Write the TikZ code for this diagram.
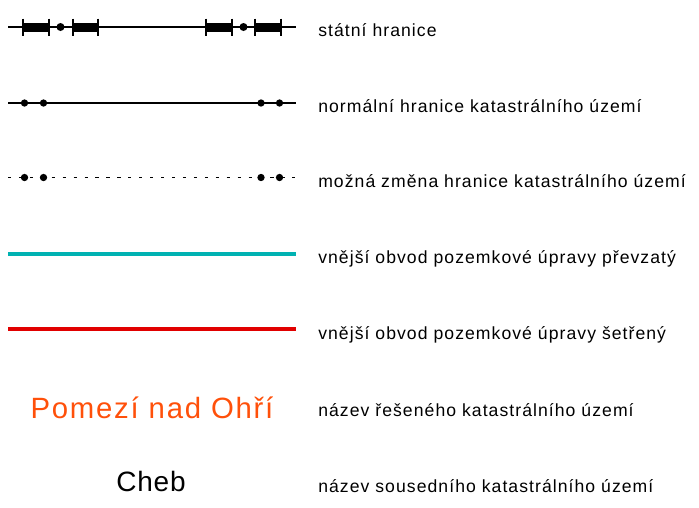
\documentclass[tikz,border=0pt]{standalone}
\usepackage{fontspec}
\setmainfont{Liberation Sans}[LetterSpace=6]
\definecolor{cyanline}{RGB}{0,178,178}
\definecolor{redline}{RGB}{225,0,0}
\definecolor{orangetext}{RGB}{255,80,10}
\begin{document}
\begin{tikzpicture}[x=0.75pt,y=-0.75pt,
  thinline/.style={line width=1pt,black},
  seg/.style={fill=black,draw=none},
  tick/.style={line width=0.8pt,black},
  dot/.style={circle,fill=black,inner sep=0pt,minimum size=6pt},
  smalldot/.style={circle,fill=black,inner sep=0pt,minimum size=5.5pt},
  label/.style={anchor=base west,inner sep=0pt,font=\fontsize{13.2}{15}\selectfont},
  bigname/.style={anchor=base,inner sep=0pt,font=\fontsize{22}{26}\selectfont}]
\useasboundingbox (0,0) rectangle (699,507);
% row 1: state boundary
\coordinate (a1) at (8,27); \coordinate (b1) at (296,27);
\draw[thinline] (a1) -- (b1);
\foreach \xa/\xb in {23/49,73/98,206/232,255/281}{
  \fill[seg] (\xa,22.5) rectangle (\xb,31.5);
  \draw[tick] (\xa,18.5) -- (\xa,35.5);
  \draw[tick] (\xb,18.5) -- (\xb,35.5);
}
\node[dot] (d11) at (60.5,27) {};
\node[dot] (d12) at (243.5,27) {};
\node[label] (t1) at (318,36) {státní hranice};
% row 2
\coordinate (a2) at (8,103); \coordinate (b2) at (296,103);
\draw[thinline] (a2) -- (b2);
\foreach \x in {24.5,43.5,261,279.5}{\node[smalldot] at (\x,103) {};}
\node[label] (t2) at (318,112) {normální hranice katastrálního území};
% row 3
\coordinate (a3) at (8,177.5); \coordinate (b3) at (296,177.5);
\draw[thinline,dash pattern=on 2.4pt off 5.8pt] (a3) -- (b3);
\foreach \x in {24.5,43.5,261,279.5}{\node[smalldot] at (\x,177.5) {};}
\node[label] (t3) at (318,187) {možná změna hranice katastrálního území};
% row 4
\coordinate (a4) at (8,254); \coordinate (b4) at (296,254);
\draw[line width=3pt,cyanline] (a4) -- (b4);
\node[label] (t4) at (318,263) {vnější obvod pozemkové úpravy převzatý};
% row 5
\coordinate (a5) at (8,329); \coordinate (b5) at (296,329);
\draw[line width=3pt,redline] (a5) -- (b5);
\node[label] (t5) at (318,339) {vnější obvod pozemkové úpravy šetřený};
% row 6
\node[bigname,text=orangetext] (n6) at (152,418) {Pomezí nad Ohří};
\node[label] (t6) at (318,416) {název řešeného katastrálního území};
% row 7
\node[bigname,text=black,font=\fontsize{21}{25}\selectfont\addfontfeatures{LetterSpace=3}] (n7) at (151,491) {Cheb};
\node[label] (t7) at (318,492) {název sousedního katastrálního území};
\end{tikzpicture}
\end{document}
